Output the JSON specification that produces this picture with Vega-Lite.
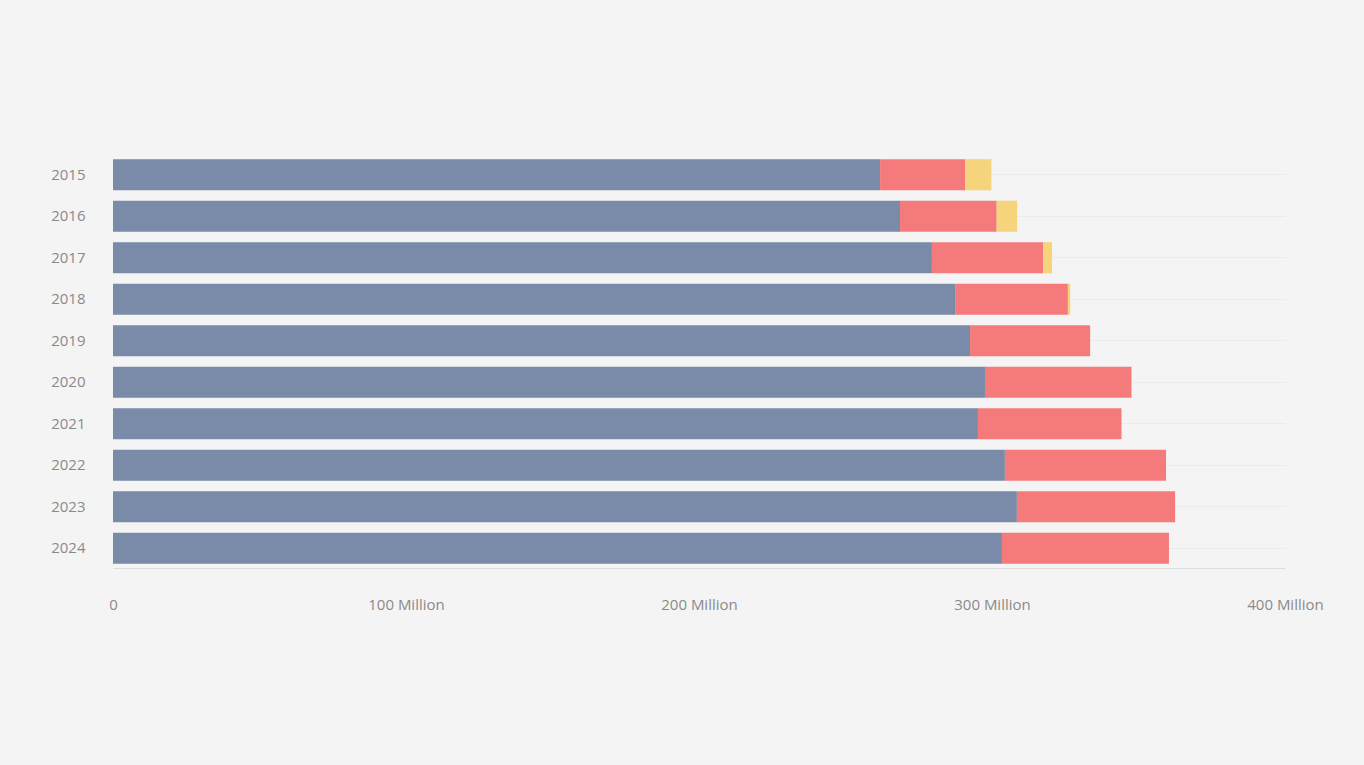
{
  "$schema": "https://vega.github.io/schema/vega-lite/v6.json",
  "autosize": "none",
  "width": 1172,
  "height": 413,
  "padding": {"left": 113, "top": 155, "right": 79, "bottom": 197},
  "background": "#f4f4f4",
  "config": {
    "view": {"stroke": null},
    "axis": {"labelFont": "Open Sans", "labelColor": "#8a8a8a", "labelFontSize": 15}
  },
  "data": {
    "values": [
      {"year": "2015", "type": "Core", "value": 261.8},
      {"year": "2015", "type": "Growth", "value": 29},
      {"year": "2015", "type": "Other", "value": 9},
      {"year": "2016", "type": "Core", "value": 268.6},
      {"year": "2016", "type": "Growth", "value": 33},
      {"year": "2016", "type": "Other", "value": 7},
      {"year": "2017", "type": "Core", "value": 279.5},
      {"year": "2017", "type": "Growth", "value": 38},
      {"year": "2017", "type": "Other", "value": 3},
      {"year": "2018", "type": "Core", "value": 287.4},
      {"year": "2018", "type": "Growth", "value": 38.5},
      {"year": "2018", "type": "Other", "value": 0.8},
      {"year": "2019", "type": "Core", "value": 292.5},
      {"year": "2019", "type": "Growth", "value": 41},
      {"year": "2020", "type": "Core", "value": 297.6},
      {"year": "2020", "type": "Growth", "value": 50},
      {"year": "2021", "type": "Core", "value": 295.2},
      {"year": "2021", "type": "Growth", "value": 49},
      {"year": "2022", "type": "Core", "value": 304.4},
      {"year": "2022", "type": "Growth", "value": 55},
      {"year": "2023", "type": "Core", "value": 308.5},
      {"year": "2023", "type": "Growth", "value": 54},
      {"year": "2024", "type": "Core", "value": 303.4},
      {"year": "2024", "type": "Growth", "value": 57}
    ]
  },
  "transform": [
    {"calculate": "indexof(['Core','Growth','Other'], datum.type)", "as": "order"}
  ],
  "mark": {"type": "bar"},
  "encoding": {
    "y": {
      "field": "year",
      "type": "nominal",
      "title": null,
      "scale": {"paddingInner": 0.25, "paddingOuter": 0.1},
      "axis": {
        "domain": false,
        "ticks": false,
        "grid": true,
        "gridColor": "#ebebeb",
        "labelPadding": 28
      }
    },
    "x": {
      "field": "value",
      "type": "quantitative",
      "title": null,
      "stack": "zero",
      "scale": {"domain": [0, 400], "nice": false},
      "axis": {
        "values": [0, 100, 200, 300, 400],
        "grid": false,
        "ticks": false,
        "domain": true,
        "domainColor": "#dcdcdc",
        "labelFlush": false,
        "labelPadding": 29,
        "labelExpr": "datum.value == 0 ? '0' : datum.value + ' Million'"
      }
    },
    "color": {
      "field": "type",
      "type": "nominal",
      "legend": null,
      "scale": {"domain": ["Core", "Growth", "Other"], "range": ["#798ba8", "#f47a7c", "#f6d47c"]}
    },
    "order": {"field": "order", "type": "quantitative"}
  }
}
